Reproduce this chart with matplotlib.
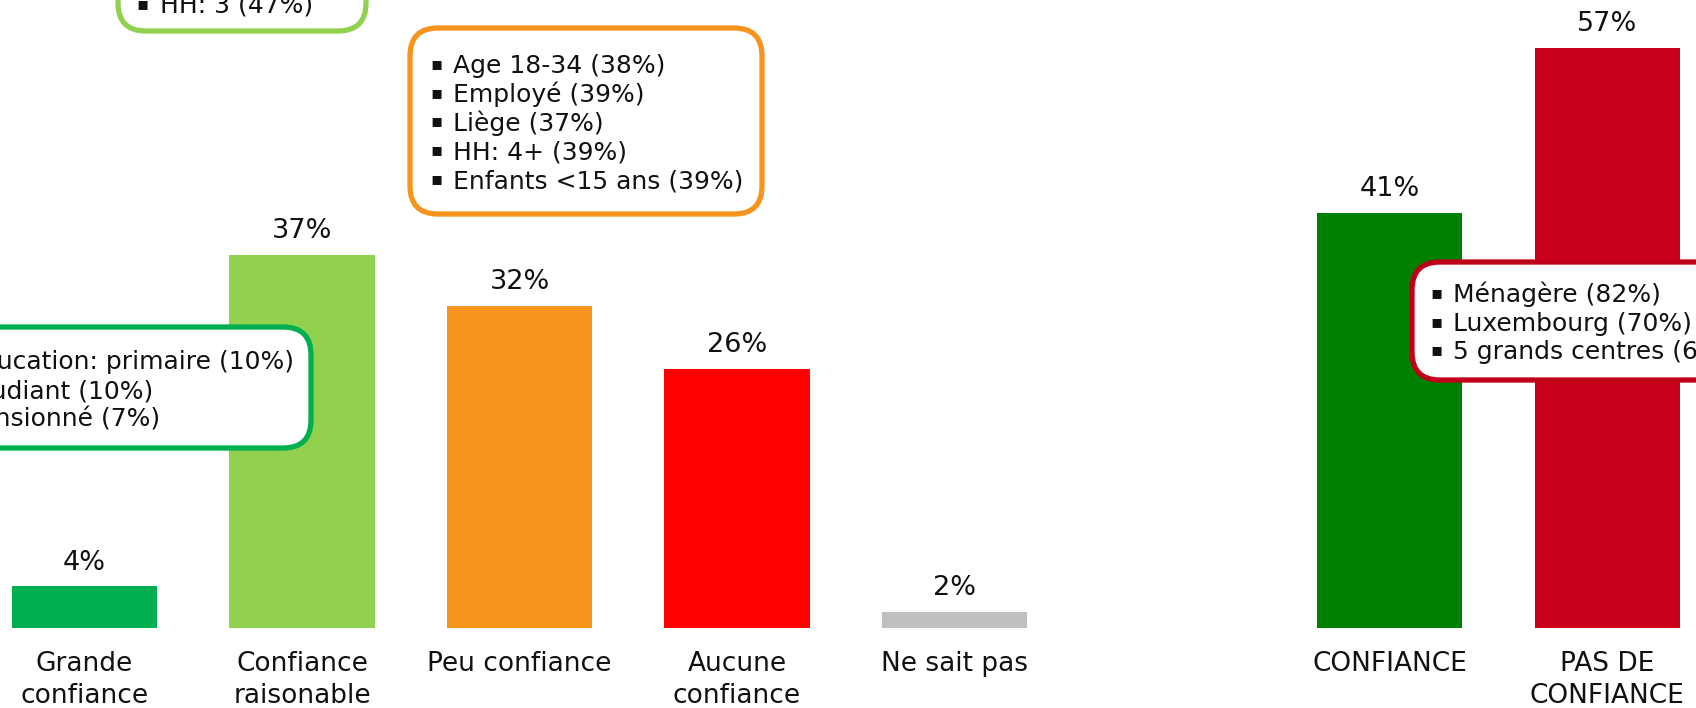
import matplotlib
matplotlib.use("Agg")
import matplotlib.pyplot as plt
from matplotlib.patches import FancyBboxPatch
from matplotlib.transforms import IdentityTransform

# data
categories = ["Grande\nconfiance", "Confiance\nraisonable", "Peu confiance",
              "Aucune\nconfiance", "Ne sait pas", "CONFIANCE", "PAS DE\nCONFIANCE"]
values = [4.1, 36.9, 31.9, 25.6, 1.6, 41.1, 57.4]
colors = ["#00B050", "#92D050", "#F7941D", "#FF0000", "#BFBFBF", "#008000", "#C8001A"]
positions = [0, 1, 2, 3, 4, 6, 7]   # slot 5 left empty between the two groups

# callout texts
box_raisonable = ["HH: 3 (47%)"]
box_peu = ["Age 18-34 (38%)", "Employé (39%)", "Liège (37%)", "HH: 4+ (39%)",
           "Enfants <15 ans (39%)"]
box_grande = ["Éducation: primaire (10%)", "Étudiant (10%)", "Pensionné (7%)"]
box_pas = ["Ménagère (82%)", "Luxembourg (70%)", "5 grands centres (65%)"]

W, H = 1696, 708
plt.rcParams["font.family"] = "DejaVu Sans"
fig = plt.figure(figsize=(W / 100, H / 100), dpi=100)
ax = fig.add_axes([0, 0, 1, 1])
ax.set_axis_off()

ax.bar(positions, values, width=0.667, color=colors)
ax.set_xlim(-0.3885, 7.409)
ax.set_ylim(-7.95, 62.15)

for p, v, c in zip(positions, values, categories):
    ax.annotate(f"{v:.0f}%", (p, v), xytext=(0, 12), textcoords="offset points",
                ha="center", va="baseline", fontsize=19.5, color="#111111")
    # one text per line so the first line always sits at the same height
    for i, line in enumerate(c.split("\n")):
        ax.annotate(line, (p, 0), xytext=(0, -31.5 - i * 22.6),
                    textcoords="offset points", ha="center", va="baseline",
                    fontsize=19, color="#111111")

ident = IdentityTransform()


def callout(x0, y0, x1, y1, color, lines, bx, tx, base, step=28.7):
    # coordinates in output pixels, measured from top-left
    patch = FancyBboxPatch((x0, H - y1), x1 - x0, y1 - y0,
                           boxstyle="round,pad=0,rounding_size=28",
                           transform=ident, facecolor="white", edgecolor=color,
                           linewidth=3.8, zorder=5, clip_on=False)
    ax.add_patch(patch)
    for i, s in enumerate(lines):
        y = H - (base + i * step)
        ax.text(bx, y + 4, "▪", transform=ident, fontsize=13, va="baseline",
                zorder=6, color="#111111")
        ax.text(tx, y, s, transform=ident, fontsize=18, va="baseline",
                zorder=6, color="#111111")


callout(118, -200, 366, 31, "#92D050", box_raisonable, 136, 160, 13)
callout(410, 28, 762, 214, "#F7941D", box_peu, 430, 453, 73, 28.75)
callout(-80, 327, 311, 448, "#00B050", box_grande, -58, -35, 369, 29)
callout(1412, 262, 1800, 380, "#C00018", box_pas, 1430, 1453, 302, 28.7)

fig.savefig("out.png", dpi=100)
